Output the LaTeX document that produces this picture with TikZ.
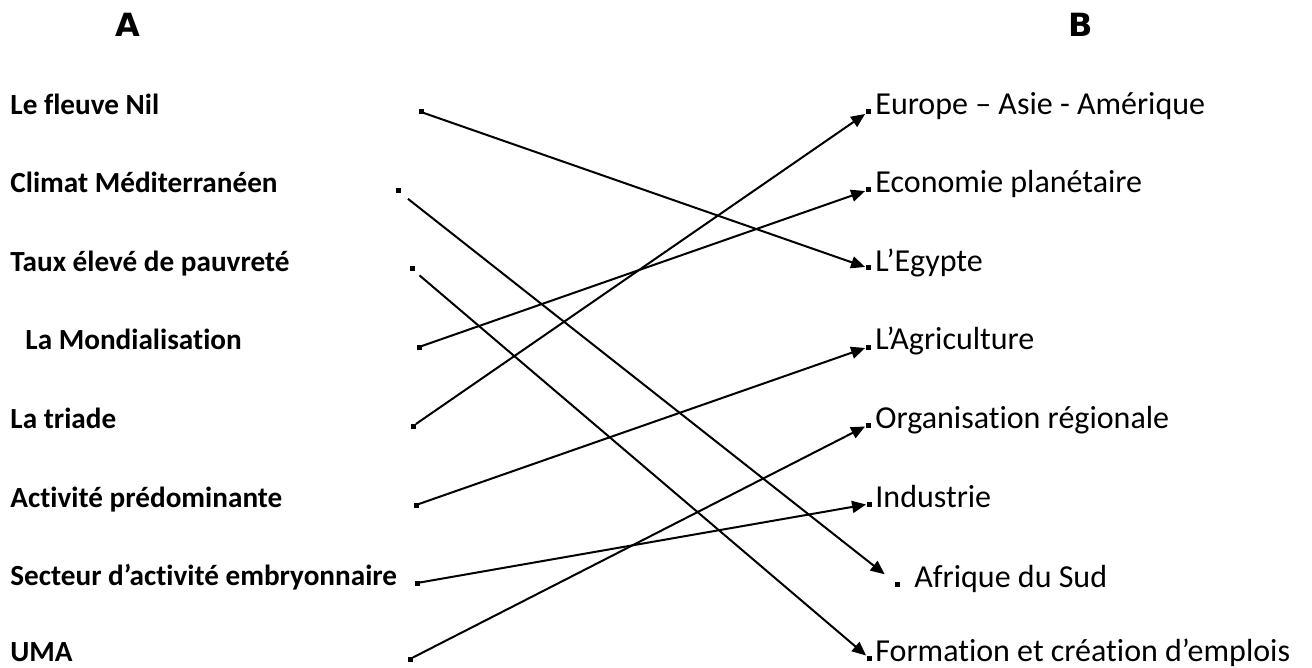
\documentclass[tikz,border=0pt]{standalone}
\usepackage{fontspec}
\setmainfont{Carlito}[Ligatures={NoCommon,NoContextual}]
\newfontfamily\headfont{DejaVu Sans}
\usetikzlibrary{arrows.meta}
\tikzset{font=\fontsize{16}{18}\selectfont}

\begin{document}
\begin{tikzpicture}[x=0.5pt,y=-0.5pt]
	\tikzstyle{every node}=[inner sep=0pt]
	\tikzstyle{lbl}=[anchor=base west]
	\tikzstyle{lblA}=[anchor=base west, font=\fontsize{14.6}{17}\selectfont\bfseries]
	\tikzstyle{pt}=[fill=black, minimum size=2.5pt]
	\tikzstyle{lnk}=[line width=1pt, -{Triangle[length=7pt,width=6pt]}]
	\useasboundingbox (0,0) rectangle (1312,668);

	% column titles
	\node[font=\headfont\bfseries\fontsize{16}{18}\selectfont] (hA) at (128,25) {A};
	\node[font=\headfont\bfseries\fontsize{16}{18}\selectfont] (hB) at (1081,25) {B};

	% column A
	\node[lblA] (nil) at (10,115) {Le fleuve Nil};
	\node[lblA] (clim) at (10,193) {Climat Méditerranéen};
	\node[lblA] (taux) at (10,272) {Taux élevé de pauvreté};
	\node[lblA] (mond) at (25,350) {La Mondialisation};
	\node[lblA] (tri) at (10,428) {La triade};
	\node[lblA] (act) at (10,507) {Activité prédominante};
	\node[lblA] (sec) at (10,585) {Secteur d’activité embryonnaire};
	\node[lblA] (uma) at (10,661) {UMA};

	\node[pt] (nilp) at (421,112) {};
	\node[pt] (climp) at (398,191) {};
	\node[pt] (tauxp) at (412,269) {};
	\node[pt] (mondp) at (419,347) {};
	\node[pt] (trip) at (413,426) {};
	\node[pt] (actp) at (416,505) {};
	\node[pt] (secp) at (417,583) {};
	\node[pt] (umap) at (410,659) {};

	% column B
	\node[lbl] (eur) at (875,115) {Europe – Asie - Amérique};
	\node[lbl] (eco) at (875,193) {Economie planétaire};
	\node[lbl] (egy) at (875,271) {L’Egypte};
	\node[lbl] (agr) at (875,350) {L’Agriculture};
	\node[lbl] (org) at (875,428) {Organisation régionale};
	\node[lbl] (ind) at (875,507) {Industrie};
	\node[lbl] (afr) at (914,587) {Afrique du Sud};
	\node[lbl] (form) at (875,661) {Formation et création d’emplois};

	\node[pt] (eurp) at (868,112) {};
	\node[pt] (ecop) at (868,190) {};
	\node[pt] (egyp) at (868,268) {};
	\node[pt] (agrp) at (868,347) {};
	\node[pt] (orgp) at (868,425) {};
	\node[pt] (indp) at (869,504) {};
	\node[pt] (afrp) at (897,584) {};
	\node[pt] (formp) at (869,658) {};

	\draw [lnk] (nilp) -- (egyp);
	\draw [lnk, shorten <=4.5pt, shorten >=6pt] (climp) -- (afrp);
	\draw [lnk, shorten <=3pt] (tauxp) -- (formp);
	\draw [lnk] (mondp) -- (ecop);
	\draw [lnk] (trip) -- (eurp);
	\draw [lnk] (actp) -- (agrp);
	\draw [lnk] (secp) -- (indp);
	\draw [lnk] (umap) -- (orgp);
\end{tikzpicture}
\end{document}
